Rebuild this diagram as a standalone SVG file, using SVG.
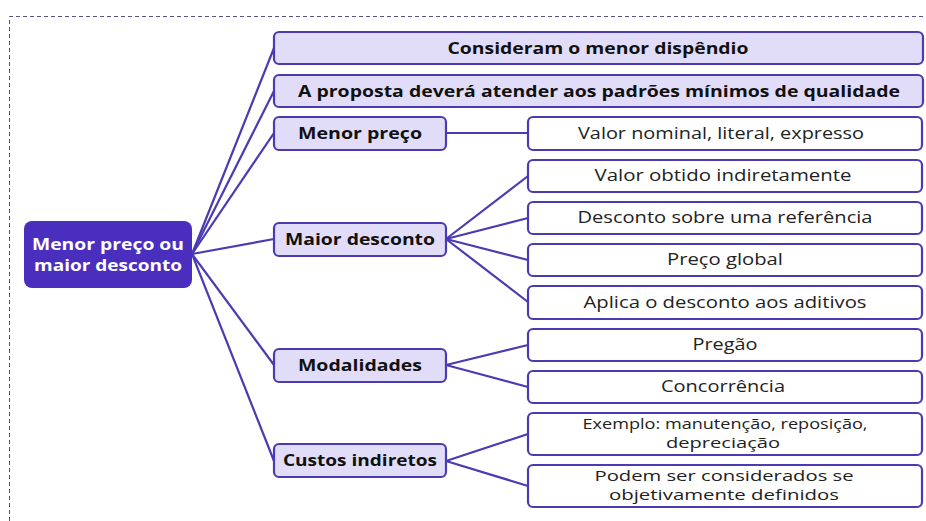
<svg xmlns="http://www.w3.org/2000/svg" width="926" height="521" viewBox="0 0 926 521">
<style>
.l1 rect{fill:#e1ddf8;stroke:#4b3bb3;stroke-width:2.2}
.l2 rect{fill:#ffffff;stroke:#4b3bb3;stroke-width:2.2}
.l1 text{font-family:"Open Sans",sans-serif;font-weight:bold;font-size:16.5px;fill:#111;text-anchor:middle}
.l2 text{font-family:"Open Sans",sans-serif;font-size:15.5px;fill:#222;text-anchor:middle}
.l2 text.sm{font-size:14.5px}
.rt{font-family:"Open Sans",sans-serif;font-weight:bold;font-size:16.5px;fill:#fff;text-anchor:middle}
#conn path{fill:none;stroke:#4b3bb3;stroke-width:2.2}
</style>
<rect x="0" y="0" width="926" height="521" fill="#ffffff"/>
<path d="M9.5,521 V16.5 H926" fill="none" stroke="#55508a" stroke-width="1" stroke-dasharray="4,3"/>
<g id="conn">
<path d="M192,254 L274,48"/>
<path d="M192,254 L274,91"/>
<path d="M192,254 L274,133"/>
<path d="M192,254 L274,239"/>
<path d="M192,254 L274,365"/>
<path d="M192,254 L274,461"/>
<path d="M446,133 L528,133"/>
<path d="M446,239 L528,176"/>
<path d="M446,239 L528,218"/>
<path d="M446,239 L528,260"/>
<path d="M446,239 L528,302"/>
<path d="M446,365 L528,345"/>
<path d="M446,365 L528,387"/>
<path d="M446,461 L528,434"/>
<path d="M446,461 L528,486"/>
</g>
<g id="root">
<rect x="24" y="221" width="168" height="67" rx="8" fill="#4a2fbf"/>
<text class="rt" x="108" y="250" textLength="152" lengthAdjust="spacingAndGlyphs">Menor preço ou</text>
<text class="rt" x="108" y="271" textLength="148" lengthAdjust="spacingAndGlyphs">maior desconto</text>
</g>
<g id="n1" class="l1"><rect x="274" y="32" width="649" height="32" rx="5"/><text x="598" y="54" textLength="301" lengthAdjust="spacingAndGlyphs">Consideram o menor dispêndio</text></g>
<g id="n2" class="l1"><rect x="274" y="75" width="649" height="32" rx="5"/><text x="599" y="97" textLength="602" lengthAdjust="spacingAndGlyphs">A proposta deverá atender aos padrões mínimos de qualidade</text></g>
<g id="n3" class="l1"><rect x="274" y="117" width="172" height="33" rx="5"/><text x="360" y="139" textLength="124" lengthAdjust="spacingAndGlyphs">Menor preço</text></g>
<g id="n4" class="l1"><rect x="274" y="223" width="172" height="33" rx="5"/><text x="360" y="245" textLength="150" lengthAdjust="spacingAndGlyphs">Maior desconto</text></g>
<g id="n5" class="l1"><rect x="274" y="349" width="172" height="33" rx="5"/><text x="360" y="371" textLength="124" lengthAdjust="spacingAndGlyphs">Modalidades</text></g>
<g id="n6" class="l1"><rect x="274" y="444" width="172" height="33" rx="5"/><text x="360" y="466" textLength="154" lengthAdjust="spacingAndGlyphs">Custos indiretos</text></g>
<g id="m1" class="l2"><rect x="528" y="117" width="394" height="33" rx="5"/><text x="721" y="139" textLength="286" lengthAdjust="spacingAndGlyphs">Valor nominal, literal, expresso</text></g>
<g id="m2" class="l2"><rect x="528" y="160" width="394" height="32" rx="5"/><text x="723" y="181" textLength="257" lengthAdjust="spacingAndGlyphs">Valor obtido indiretamente</text></g>
<g id="m3" class="l2"><rect x="528" y="202" width="394" height="32" rx="5"/><text x="725" y="223" textLength="295" lengthAdjust="spacingAndGlyphs">Desconto sobre uma referência</text></g>
<g id="m4" class="l2"><rect x="528" y="244" width="394" height="32" rx="5"/><text x="725" y="265" textLength="116" lengthAdjust="spacingAndGlyphs">Preço global</text></g>
<g id="m5" class="l2"><rect x="528" y="286" width="394" height="33" rx="5"/><text x="725" y="308" textLength="283" lengthAdjust="spacingAndGlyphs">Aplica o desconto aos aditivos</text></g>
<g id="m6" class="l2"><rect x="528" y="329" width="394" height="32" rx="5"/><text x="725" y="350" textLength="65" lengthAdjust="spacingAndGlyphs">Pregão</text></g>
<g id="m7" class="l2"><rect x="528" y="371" width="394" height="32" rx="5"/><text x="723" y="392" textLength="124" lengthAdjust="spacingAndGlyphs">Concorrência</text></g>
<g id="m8" class="l2"><rect x="528" y="413" width="394" height="42" rx="5"/><text class="sm" x="725" y="429" textLength="285" lengthAdjust="spacingAndGlyphs">Exemplo: manutenção, reposição,</text><text class="sm" x="723" y="448" textLength="114" lengthAdjust="spacingAndGlyphs">depreciação</text></g>
<g id="m9" class="l2"><rect x="528" y="465" width="394" height="42" rx="5"/><text class="sm" x="724" y="481" textLength="259" lengthAdjust="spacingAndGlyphs">Podem ser considerados se</text><text class="sm" x="724" y="500" textLength="230" lengthAdjust="spacingAndGlyphs">objetivamente definidos</text></g>
</svg>
